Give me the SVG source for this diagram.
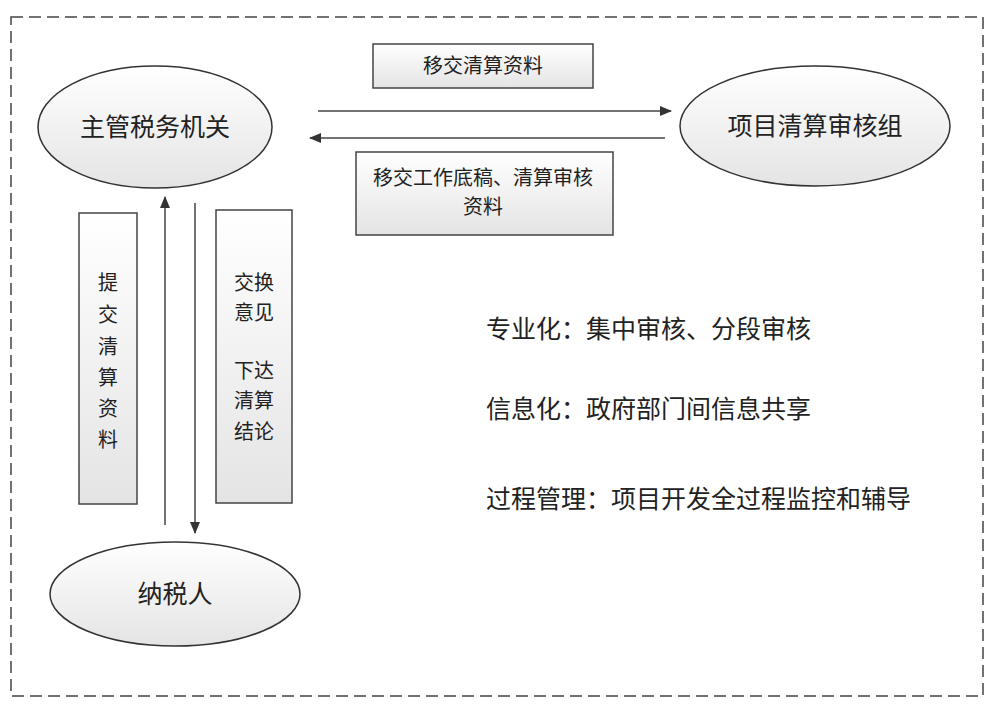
<svg xmlns="http://www.w3.org/2000/svg" width="1000" height="715" viewBox="0 0 1000 715">
<defs>
<linearGradient id="g" x1="0" y1="0" x2="0" y2="1"><stop offset="0" stop-color="#ffffff"/><stop offset="1" stop-color="#e4e4e4"/></linearGradient>
<marker id="a" markerWidth="12" markerHeight="10" refX="11" refY="5" orient="auto" markerUnits="userSpaceOnUse"><path d="M0,0 L12,5 L0,10 Z" fill="#333"/></marker>
<style>
.n{fill:url(#g);stroke:#333;stroke-width:1.5}
.b{fill:url(#g);stroke:#444;stroke-width:1.5}
.c{stroke:#444;stroke-width:1.5;fill:none;marker-end:url(#a)}
text{font-family:"Liberation Serif","Noto Sans CJK SC",serif;fill:#222}
.t{font-size:25px;text-anchor:middle}
.s{font-size:20px;text-anchor:middle}
.r{font-size:25px}
</style>
</defs>
<rect width="1000" height="715" fill="#fff"/>
<rect x="11" y="17" width="972" height="679" fill="none" stroke="#444" stroke-width="1.5" stroke-dasharray="12,6"/>
<g id="n1"><ellipse class="n" cx="155" cy="127" rx="117" ry="61"/><text class="t" x="155" y="136">主管税务机关</text></g>
<g id="n2"><ellipse class="n" cx="815" cy="126" rx="135" ry="60"/><text class="t" x="815" y="135">项目清算审核组</text></g>
<g id="n3"><ellipse class="n" cx="175" cy="594" rx="125" ry="52"/><text class="t" x="175" y="603">纳税人</text></g>
<g id="connectors">
<line class="c" x1="318" y1="111" x2="671" y2="111"/>
<line class="c" x1="665" y1="138" x2="310" y2="138"/>
<line class="c" x1="165" y1="525" x2="165" y2="197"/>
<line class="c" x1="195" y1="203" x2="195" y2="533"/>
</g>
<g id="l1"><rect class="b" x="373" y="44" width="220" height="44"/><text class="s" x="483" y="73">移交清算资料</text></g>
<g id="l2"><rect class="b" x="356" y="152" width="257" height="83"/><text class="s" x="483" y="185">移交工作底稿、清算审核</text><text class="s" x="483" y="214">资料</text></g>
<g id="l3"><rect class="b" x="79" y="213" width="58" height="291"/>
<text class="s" x="108" y="290">提</text><text class="s" x="108" y="322">交</text><text class="s" x="108" y="354">清</text><text class="s" x="108" y="385">算</text><text class="s" x="108" y="416">资</text><text class="s" x="108" y="447">料</text></g>
<g id="l4"><rect class="b" x="216" y="210" width="76" height="293"/>
<text class="s" x="254" y="290">交换</text><text class="s" x="254" y="320">意见</text><text class="s" x="254" y="378">下达</text><text class="s" x="254" y="408">清算</text><text class="s" x="254" y="439">结论</text></g>
<g id="notes">
<text class="r" x="486" y="338">专业化：集中审核、分段审核</text>
<text class="r" x="486" y="418">信息化：政府部门间信息共享</text>
<text class="r" x="486" y="508">过程管理：项目开发全过程监控和辅导</text>
</g>
</svg>
